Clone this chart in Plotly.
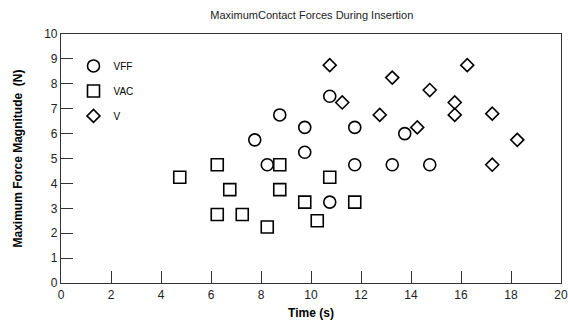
import plotly.graph_objects as go

vff_x = [7.75, 8.25, 8.75, 9.75, 9.75, 10.75, 10.75, 11.75, 11.75, 13.25, 13.75, 14.75]
vff_y = [5.75, 4.75, 6.75, 6.25, 5.25, 7.5, 3.25, 6.25, 4.75, 4.75, 6.0, 4.75]

vac_x = [4.75, 6.25, 6.25, 6.75, 7.25, 8.25, 8.75, 8.75, 9.75, 10.25, 10.75, 11.75]
vac_y = [4.25, 4.75, 2.75, 3.75, 2.75, 2.25, 4.75, 3.75, 3.25, 2.5, 4.25, 3.25]

v_x = [10.75, 11.25, 12.75, 13.25, 14.25, 14.75, 15.75, 15.75, 16.25, 17.25, 17.25, 18.25]
v_y = [8.75, 7.25, 6.75, 8.25, 6.25, 7.75, 7.25, 6.75, 8.75, 6.8, 4.75, 5.75]

x_ticks = [0, 2, 4, 6, 8, 10, 12, 14, 16, 18, 20]
y_ticks = list(range(0, 11))

FONT = "Liberation Sans, Arial, sans-serif"

fig = go.Figure()
series = [
    ("VFF", vff_x, vff_y, "circle-open", 12),
    ("VAC", vac_x, vac_y, "square-open", 12),
    ("V", v_x, v_y, "diamond-open", 10),
]
for name, xs, ys, sym, sz in series:
    fig.add_trace(go.Scatter(
        x=xs, y=ys, mode="markers", name=name, legendgroup=name,
        marker=dict(symbol=sym, size=sz, color="black", line=dict(color="black", width=1.6)),
    ))

fig.update_layout(
    width=568, height=327,
    margin=dict(l=61, r=7, t=34, b=44),
    paper_bgcolor="white", plot_bgcolor="white",
    font=dict(family=FONT, color="black", size=12),
    title=dict(text="MaximumContact Forces During Insertion", x=0.549, xanchor="center",
               y=0.955, yanchor="middle", font=dict(size=11, family=FONT, color="#222")),
    showlegend=True,
    legend=dict(x=0.025, y=0.93, xanchor="left", yanchor="top", bgcolor="rgba(0,0,0,0)",
                borderwidth=0, font=dict(size=10, family=FONT), tracegroupgap=6,
                itemwidth=30),
)
fig.update_xaxes(
    range=[0, 20], tickvals=x_ticks, ticktext=[str(t) for t in x_ticks],
    ticks="inside", ticklen=12, tickwidth=1, tickcolor="#333",
    showline=True, linecolor="#333", linewidth=1.2, mirror=True,
    showgrid=False, zeroline=False, automargin=False,
    tickfont=dict(size=12, family=FONT, color="#222"),
    title=dict(text="<b>Time (s)</b>", standoff=8, font=dict(size=12, family=FONT)),
)
fig.update_yaxes(
    range=[0, 10], tickvals=y_ticks, ticktext=[str(t) for t in y_ticks],
    ticks="inside", ticklen=12, tickwidth=1, tickcolor="#333",
    showline=True, linecolor="#333", linewidth=1.2, mirror=True,
    showgrid=False, zeroline=False, automargin=False,
    tickfont=dict(size=12, family=FONT, color="#222"),
    title=dict(text="<b>Maximum Force Magnitude  (N)</b>", standoff=18, font=dict(size=12, family=FONT)),
)

fig.write_html("out.html")
